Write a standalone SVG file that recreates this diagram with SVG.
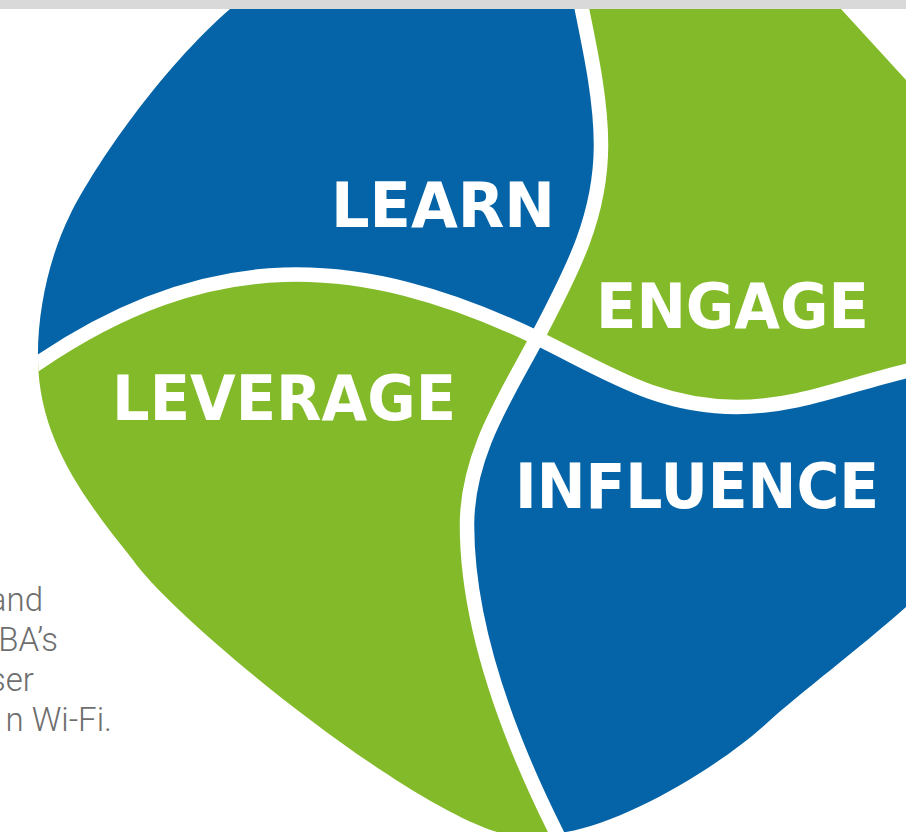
<svg xmlns="http://www.w3.org/2000/svg" width="906" height="832" viewBox="0 0 906 832">
  <style>
    .blue { fill: #0564a7; }
    .green { fill: #83ba29; }
    .label { font-family: "DejaVu Sans", "Liberation Sans", sans-serif; font-weight: bold; font-size: 62px; fill: #ffffff; }
    .divider { fill: none; stroke: #ffffff; stroke-width: 14.5; }
    .copy { font-family: Roboto, "Liberation Sans", sans-serif; font-weight: 300; font-size: 33px; fill: #6e6e6e; }
  </style>
  <defs>
    <!-- overall rounded outline of the four-part shape -->
    <clipPath id="blob">
      <path d="M 267,-40 L 230,9 C 160,70 95,165 70,215 C 50,255 37,310 38,360 C 39,440 85,500 133,560 C 175,620 397,801 497,832 L 520,880 L 590,880 L 566,832 C 625,822 715,770 767,723 C 800,693 860,648 906,607 L 960,560 L 960,139 L 906,80 L 841,9 L 805,-40 Z"/>
    </clipPath>
  </defs>

  <rect x="0" y="0" width="906" height="832" fill="#ffffff"/>

  <g clip-path="url(#blob)">
    <g id="learn">
      <path class="blue" d="M 573,-40 L 578,-10 C 588,40 601,95 601,145 C 601,215 574,268 537,338 C 357,251.6 208,247.4 38,363 L -40,416 L -40,-40 Z"/>
      <text class="label" x="331" y="227" textLength="224" lengthAdjust="spacingAndGlyphs">LEARN</text>
    </g>
    <g id="engage">
      <path class="green" d="M 573,-40 L 578,-10 C 588,40 601,95 601,145 C 601,215 574,268 537,338 C 607,372 657,407 737,407 C 797,407 846,385.4 906,371 L 960,358 L 960,-40 Z"/>
      <text class="label" x="596" y="328" textLength="273" lengthAdjust="spacingAndGlyphs">ENGAGE</text>
    </g>
    <g id="leverage">
      <path class="green" d="M 537,338 C 505,398 467,455 467,525 C 467,625 506,732 556,832 L 580,880 L -40,880 L -40,416 L 38,363 C 208,247.4 357,251.6 537,338 Z"/>
      <text class="label" x="112" y="420" textLength="344" lengthAdjust="spacingAndGlyphs">LEVERAGE</text>
    </g>
    <g id="influence">
      <path class="blue" d="M 537,338 C 607,372 657,407 737,407 C 797,407 846,385.4 906,371 L 960,358 L 960,880 L 580,880 L 556,832 C 506,732 467,625 467,525 C 467,455 505,398 537,338 Z"/>
      <text class="label" x="515" y="508" textLength="364" lengthAdjust="spacingAndGlyphs">INFLUENCE</text>
    </g>

    <!-- white separating curves -->
    <g id="connectors">
      <path class="divider" d="M -40,416 L 38,363 C 208,247.4 357,251.6 537,338 C 607,372 657,407 737,407 C 797,407 846,385.4 906,371 L 960,358"/>
      <path class="divider" d="M 573,-40 L 578,-10 C 588,40 601,95 601,145 C 601,215 574,268 537,338 C 505,398 467,455 467,525 C 467,625 506,732 556,832 L 580,880"/>
    </g>
  </g>

  <!-- grey strip along the top edge -->
  <rect x="0" y="0" width="906" height="9" fill="#d9d9d9"/>

  <!-- body copy running in from the left edge -->
  <g id="copy">
    <text class="copy" x="43" y="611" text-anchor="end">and</text>
    <text class="copy" x="58" y="651" text-anchor="end">BA’s</text>
    <text class="copy" x="34" y="691" text-anchor="end">ser</text>
    <text class="copy" x="112" y="731" text-anchor="end">n Wi-Fi.</text>
  </g>
</svg>
